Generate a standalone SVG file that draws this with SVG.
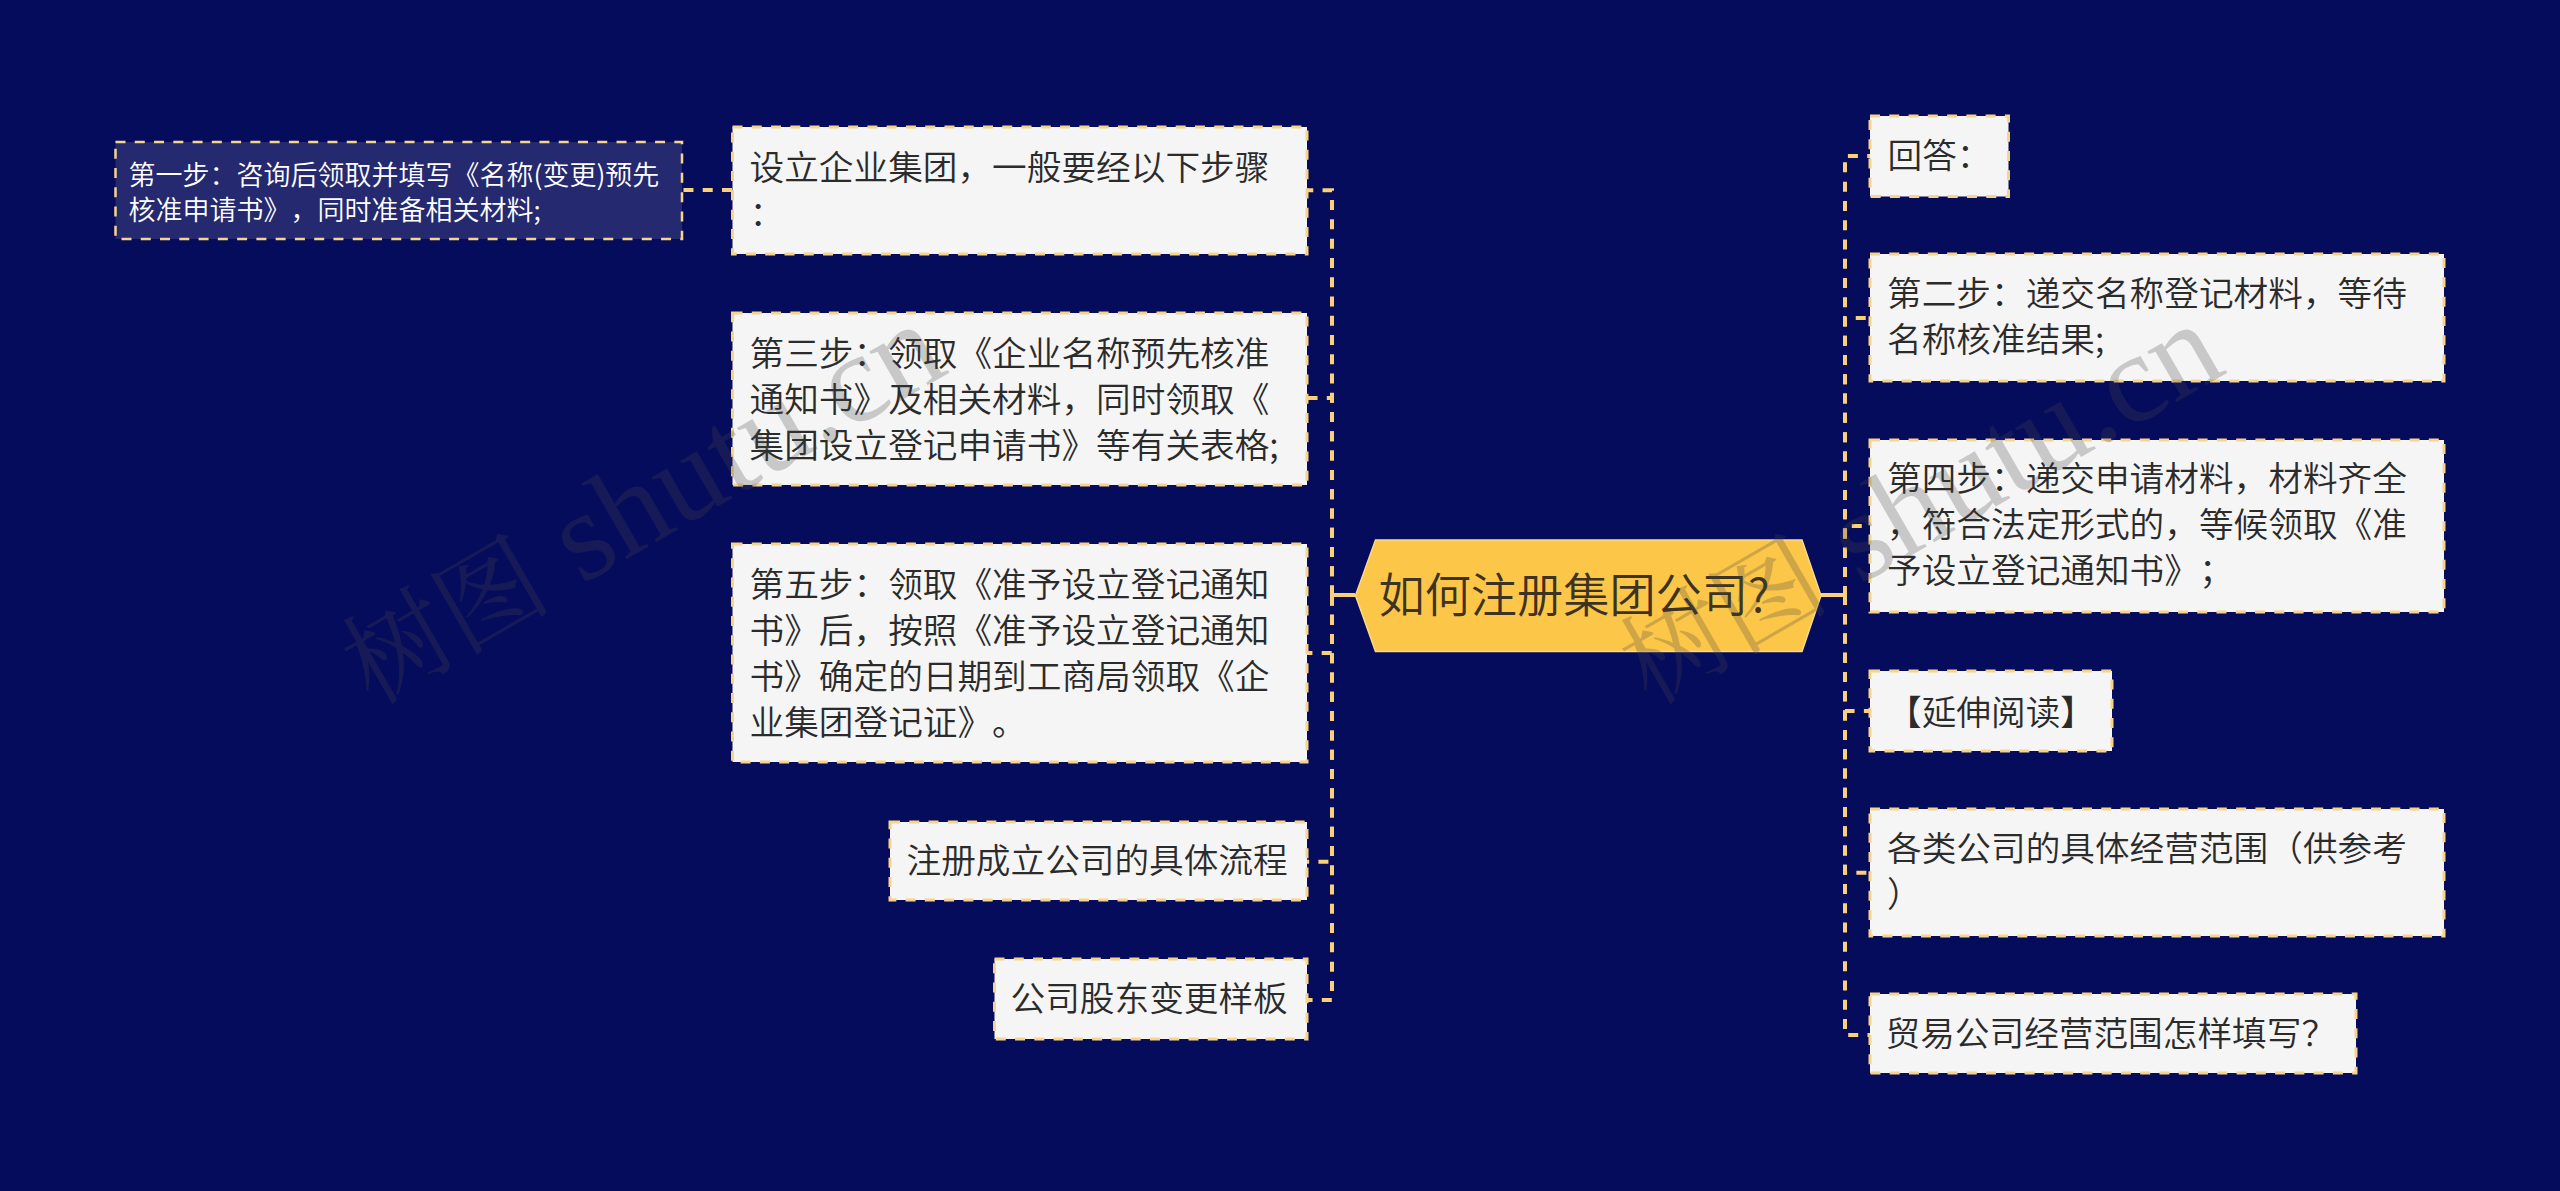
<svg xmlns="http://www.w3.org/2000/svg" width="2560" height="1191" viewBox="0 0 2560 1191">
<style>
text{text-spacing-trim:space-all}
.n{fill:#f5f5f5;stroke:#f7d489;stroke-width:3;stroke-dasharray:10 9.27}
.s{fill:#25296f;stroke:#f7d489;stroke-width:2.5;stroke-dasharray:10 9.27}
.t{font-family:"Noto Sans CJK SC","Liberation Sans",sans-serif;font-size:34.67px;font-weight:350;fill:#2b2b2b}
.st{font-family:"Noto Sans CJK SC","Liberation Sans",sans-serif;font-size:27px;font-weight:350;fill:#fff}
.ct{font-family:"Noto Sans CJK SC","Liberation Sans",sans-serif;font-size:46.2px;font-weight:350;fill:#3c3322}
.c{fill:none;stroke:#fbd078;stroke-width:4;stroke-dasharray:10 9.27}
.w{font-family:"Liberation Serif","Noto Sans CJK SC",serif;font-size:127px;fill:#464646;opacity:.25}
.wc{font-family:"Noto Serif CJK SC","Noto Sans CJK SC",serif;font-size:105px}
</style>
<rect width="2560" height="1191" fill="#060c5c"/>
<g id="connectors">
<path class="c" stroke-dashoffset="-3.23" d="M1355,595H1332V190.3H1307"/>
<path class="c" stroke-dashoffset="-3.23" d="M1355,595H1332V398H1307"/>
<path class="c" stroke-dashoffset="-4.23" d="M1355,595H1332V653H1307"/>
<path class="c" stroke-dashoffset="-4.23" d="M1355,595H1332V861.7H1307"/>
<path class="c" stroke-dashoffset="-4.23" d="M1355,595H1332V1000H1307"/>
<path class="c" stroke-dashoffset="-3.43" d="M1821,595H1845V156H1870"/>
<path class="c" stroke-dashoffset="-3.43" d="M1821,595H1845V318H1870"/>
<path class="c" stroke-dashoffset="-3.43" d="M1821,595H1845V526H1870"/>
<path class="c" stroke-dashoffset="-4.73" d="M1821,595H1845V711H1870"/>
<path class="c" stroke-dashoffset="-4.73" d="M1821,595H1845V872.7H1870"/>
<path class="c" stroke-dashoffset="-4.73" d="M1821,595H1845V1035H1870"/>
<path class="c" d="M732,190H682"/>
<path d="M1355,595H1332M1821,595H1845" fill="none" stroke="#fbd078" stroke-width="4"/>
</g>
<g id="center">
<polygon points="1375.5,540 1802,540 1821,595.5 1802,651.5 1375.5,651.5 1355.5,595.5" fill="#fcc648" stroke="#fbd98a" stroke-width="1.5"/>
<text class="ct" x="1378.5" y="612">如何注册集团公司?</text>
</g>
<g id="step1"><rect class="s" x="115.5" y="142" width="566.5" height="97"/>
<text class="st" x="128.5" y="185">第一步：咨询后领取并填写《名称(变更)预先</text>
<text class="st" x="128.5" y="220">核准申请书》，同时准备相关材料;</text></g>
<g id="l1"><rect class="n" x="732.5" y="127" width="574.5" height="127"/>
<text class="t" x="749.5" y="180">设立企业集团，一般要经以下步骤</text>
<text class="t" x="749.5" y="226">：</text></g>
<g id="l2"><rect class="n" x="732.5" y="313" width="574.5" height="172"/>
<text class="t" x="749.5" y="366">第三步：领取《企业名称预先核准</text>
<text class="t" x="749.5" y="412">通知书》及相关材料，同时领取《</text>
<text class="t" x="749.5" y="458">集团设立登记申请书》等有关表格;</text></g>
<g id="l3"><rect class="n" x="732.5" y="544" width="574.5" height="218"/>
<text class="t" x="749.5" y="597">第五步：领取《准予设立登记通知</text>
<text class="t" x="749.5" y="643">书》后，按照《准予设立登记通知</text>
<text class="t" x="749.5" y="689">书》确定的日期到工商局领取《企</text>
<text class="t" x="749.5" y="735">业集团登记证》。</text></g>
<g id="l4"><rect class="n" x="890" y="822" width="417" height="78"/>
<text class="t" x="906.5" y="873">注册成立公司的具体流程</text></g>
<g id="l5"><rect class="n" x="994.5" y="959" width="312.5" height="80"/>
<text class="t" x="1010.5" y="1011">公司股东变更样板</text></g>
<g id="r1"><rect class="n" x="1870" y="116" width="138.5" height="80.5"/>
<text class="t" x="1887.5" y="168">回答：</text></g>
<g id="r2"><rect class="n" x="1870" y="254" width="574" height="127"/>
<text class="t" x="1887" y="306">第二步：递交名称登记材料，等待</text>
<text class="t" x="1887" y="352">名称核准结果;</text></g>
<g id="r3"><rect class="n" x="1870" y="440" width="574" height="172"/>
<text class="t" x="1887" y="491">第四步：递交申请材料，材料齐全</text>
<text class="t" x="1887" y="537">，符合法定形式的，等候领取《准</text>
<text class="t" x="1887" y="583">予设立登记通知书》；</text></g>
<g id="r4"><rect class="n" x="1870" y="671" width="242" height="80"/>
<text class="t" x="1887" y="725">【延伸阅读】</text></g>
<g id="r5"><rect class="n" x="1870" y="809" width="574" height="127"/>
<text class="t" x="1887" y="861">各类公司的具体经营范围（供参考</text>
<text class="t" x="1887" y="907">）</text></g>
<g id="r6"><rect class="n" x="1870" y="994" width="486" height="79"/>
<text class="t" x="1885.5" y="1046">贸易公司经营范围怎样填写？</text></g>
<g id="watermarks">
<text class="w" transform="translate(372,706) rotate(-30)"><tspan class="wc">树图</tspan> shutu.cn</text>
<text class="w" transform="translate(1650,706) rotate(-30)"><tspan class="wc">树图</tspan> shutu.cn</text>
</g>
</svg>
